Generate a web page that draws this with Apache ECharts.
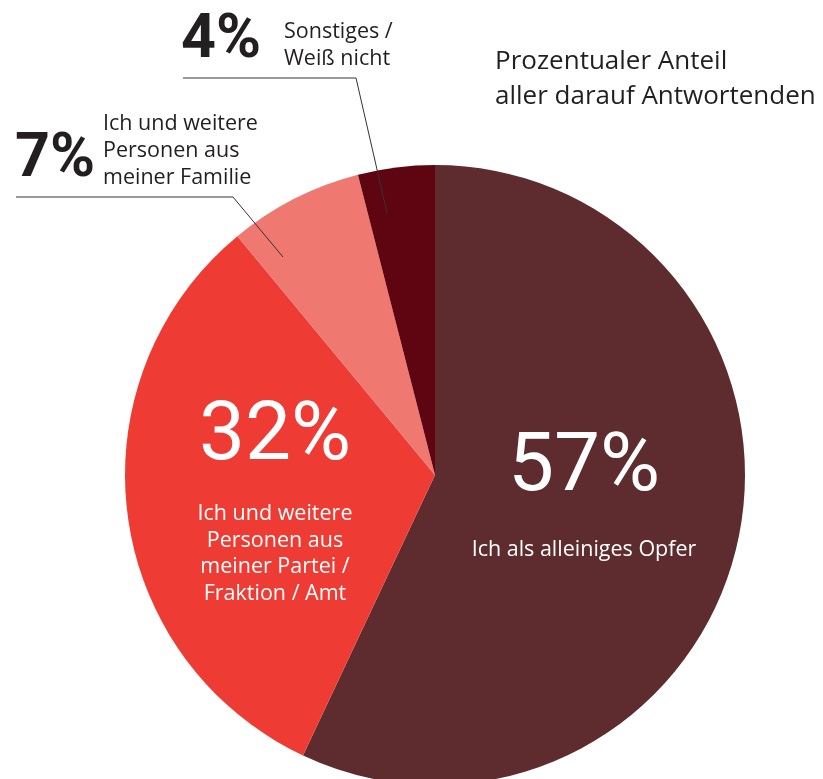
<!DOCTYPE html>
<html>
<head>
<meta charset="utf-8">
<script src="https://cdn.jsdelivr.net/npm/echarts@6/dist/echarts.min.js"></script>
<style>html,body{margin:0;padding:0;background:#fff}#c{width:823px;height:779px}</style>
</head>
<body>
<div id="c"></div>
<script>
const categories = ['Ich als alleiniges Opfer', 'Ich und weitere\nPersonen aus\nmeiner Partei /\nFraktion / Amt', 'Ich und weitere\nPersonen aus\nmeiner Familie', 'Sonstiges /\nWeiß nicht'];
const values = [57, 32, 7, 4];
const colors = ['#5e2c2e', '#ee3b33', '#ef7870', '#5e0511'];
const titleText = 'Prozentualer Anteil\naller darauf Antwortenden';

const NUMFONT = 'Roboto';
const TXTFONT = 'Open Sans';
const DARK = '#231f20';

// label placement (layout only)
const innerPos = [{x: 584, y: 483, big: 134}, {x: 275, y: 491, big: 126}];
const descPos = [null, null, {x: 103, y: 151}, {x: 284, y: 45}];
const outerPos = [null, null,
  {x: 15, y: 161, line: [[283, 257], [233, 197], [16, 197]]},
  {x: 181, y: 42, line: [[387, 213], [356, 78], [183, 78]]}
];

const chart = echarts.init(document.getElementById('c'));

const mainData = values.map((v, i) => ({
  value: v,
  name: categories[i],
  itemStyle: {color: colors[i]},
  label: i < 2 ? {
    position: 'inside',
    formatter: '{big|{c}%}\n' + categories[i].split('\n').map(s => '{desc|' + s + '}').join('\n'),
    rich: {
      big: {fontFamily: NUMFONT, fontSize: 82, color: '#fff', lineHeight: innerPos[i].big, align: 'center'},
      desc: {fontFamily: TXTFONT, fontSize: 21.5, color: '#fff', lineHeight: 26.5, align: 'center'}
    }
  } : {
    position: 'outside',
    formatter: '{b}',
    fontFamily: TXTFONT, fontSize: 21.5, color: DARK, lineHeight: 27
  },
  labelLine: {show: false}
}));

const overlayData = values.map((v, i) => ({
  value: v,
  name: categories[i],
  label: {show: i >= 2},
  labelLine: {show: i >= 2}
}));

chart.setOption({
  animation: false,
  title: {
    text: titleText,
    left: 490, top: 39,
    textStyle: {fontFamily: TXTFONT, fontSize: 26, fontWeight: 'normal', color: DARK, lineHeight: 35}
  },
  series: [
    {
      type: 'pie',
      z: 2,
      center: [435, 475],
      radius: 310,
      startAngle: 90,
      clockwise: true,
      avoidLabelOverlap: false,
      emphasis: {disabled: true},
      data: mainData,
      labelLayout: function (p) {
        if (p.dataIndex < 2) {
          const b = innerPos[p.dataIndex];
          return {x: b.x, y: b.y, align: 'center', verticalAlign: 'middle'};
        }
        const d = descPos[p.dataIndex];
        return {x: d.x, y: d.y, align: 'left', verticalAlign: 'middle'};
      }
    },
    {
      type: 'pie',
      z: 5,
      center: [435, 475],
      radius: 310,
      startAngle: 90,
      clockwise: true,
      silent: true,
      avoidLabelOverlap: false,
      emphasis: {disabled: true},
      itemStyle: {color: 'rgba(0,0,0,0)'},
      label: {
        position: 'outside',
        formatter: '{big|{c}%}',
        rich: {big: {fontFamily: NUMFONT, fontSize: 61, fontWeight: 'bold', color: DARK, lineHeight: 66}}
      },
      labelLine: {lineStyle: {color: '#333', width: 1}},
      data: overlayData,
      labelLayout: function (p) {
        const b = outerPos[p.dataIndex];
        if (!b) return {};
        return {x: b.x, y: b.y, align: 'left', verticalAlign: 'middle', labelLinePoints: b.line};
      }
    }
  ]
});
</script>
</body>
</html>
